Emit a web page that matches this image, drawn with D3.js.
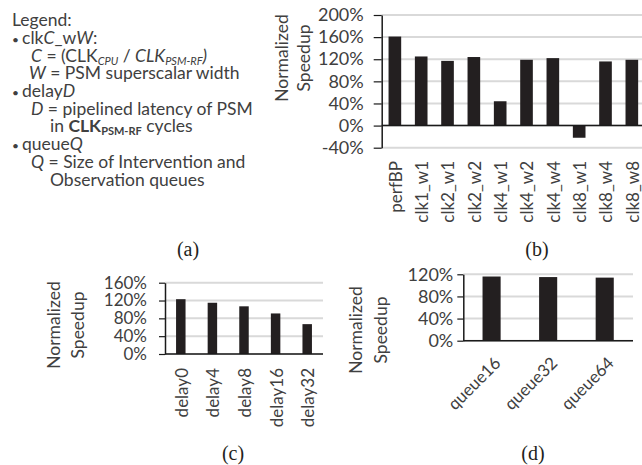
<!DOCTYPE html>
<html>
<head>
<meta charset="utf-8">
<script src="https://cdn.jsdelivr.net/npm/d3@7"></script>
<style>
  body { margin: 0; background: #fff; }
  text { font-family: Lato, "Open Sans", sans-serif; }
</style>
</head>
<body>
<div id="chart"></div>
<script>
// data
var clkCategories = ["perfBP", "clk1_w1", "clk2_w1", "clk2_w2", "clk4_w1", "clk4_w2", "clk4_w4", "clk8_w1", "clk8_w4", "clk8_w8"];
var clkValues = [161, 125, 117, 124, 44, 119, 122, -22, 116, 119];
var clkTicks = [-40, 0, 40, 80, 120, 160, 200];

var delayCategories = ["delay0", "delay4", "delay8", "delay16", "delay32"];
var delayValues = [123, 115, 107, 91, 67];
var delayTicks = [0, 40, 80, 120, 160];

var queueCategories = ["queue16", "queue32", "queue64"];
var queueValues = [116, 115, 114];
var queueTicks = [0, 40, 80, 120];

var W = 642, H = 465;
var barColor = "#231f20", gridColor = "#d9d9d9", textColor = "#404040";

var svg = d3.select("#chart").append("svg")
    .attr("width", W)
    .attr("height", H);

// ---- (a) legend text ----
var legend = svg.append("g")
    .attr("fill", textColor)
    .style("font-size", "17.5px");

function line(x, y) {
    return legend.append("text").attr("x", x).attr("y", y);
}
function part(t, s, opts) {
    var ts = t.append("tspan").text(s);
    opts = opts || {};
    if (opts.italic) ts.style("font-style", "italic");
    if (opts.bold) ts.style("font-weight", "bold");
    if (opts.sub) ts.attr("baseline-shift", "-25%").style("font-size", "11px");
    return ts;
}

line(12, 26).text("Legend:");

var t = line(12, 44);
part(t, "\u2022 ", {}).style("font-size", "12px");
part(t, "clk"); part(t, "C", {italic: true}); part(t, "_w"); part(t, "W", {italic: true}); part(t, ":");

t = line(31, 62);
part(t, "C", {italic: true}); part(t, " = (CLK");
part(t, "CPU", {italic: true, sub: true});
part(t, " / "); part(t, "CLK", {italic: true});
part(t, "PSM-RF", {italic: true, sub: true});
part(t, ")", {italic: true});

t = line(29, 79);
part(t, "W", {italic: true}); part(t, " = PSM superscalar width");

t = line(12, 97);
part(t, "\u2022 ", {}).style("font-size", "12px");
part(t, "delay"); part(t, "D", {italic: true});

t = line(31, 115);
part(t, "D", {italic: true}); part(t, " = pipelined latency of PSM");

t = line(50, 132);
part(t, "in "); part(t, "CLK", {bold: true});
part(t, "PSM-RF", {bold: true, sub: true});
part(t, " cycles");

t = line(12, 150);
part(t, "\u2022 ", {}).style("font-size", "12px");
part(t, "queue"); part(t, "Q", {italic: true});

t = line(31, 168);
part(t, "Q", {italic: true}); part(t, " = Size of Intervention and");

line(50, 186).text("Observation queues");

// ---- bar panel helper ----
function drawPanel(cfg) {
    var g = svg.append("g");

    var x = d3.scaleBand()
        .domain(cfg.categories)
        .range(cfg.xRange)
        .paddingInner(cfg.padding)
        .paddingOuter(cfg.padding / 2);

    var y = d3.scaleLinear()
        .domain(d3.extent(cfg.ticks))
        .range(cfg.yRange);

    // gridlines
    g.selectAll(".grid")
        .data(cfg.ticks)
        .enter().append("line")
        .attr("x1", cfg.xRange[0])
        .attr("x2", cfg.xRange[1])
        .attr("y1", function(d) { return y(d); })
        .attr("y2", function(d) { return y(d); })
        .attr("stroke", gridColor)
        .attr("stroke-width", 2);

    // bars
    g.selectAll(".bar")
        .data(cfg.values)
        .enter().append("rect")
        .attr("x", function(d, i) { return x(cfg.categories[i]); })
        .attr("y", function(d) { return y(Math.max(0, d)); })
        .attr("width", x.bandwidth())
        .attr("height", function(d) { return Math.abs(y(d) - y(0)); })
        .attr("fill", barColor);

    // zero line
    g.append("line")
        .attr("x1", cfg.xRange[0]).attr("x2", cfg.xRange[1])
        .attr("y1", y(0)).attr("y2", y(0))
        .attr("stroke", "#1a1a1a")
        .attr("stroke-width", 1.5);

    // y axis
    var ax = g.append("g")
        .attr("transform", "translate(" + cfg.xRange[0] + ",0)")
        .call(d3.axisLeft(y)
            .tickValues(cfg.ticks)
            .tickSizeInner(cfg.tickSize)
            .tickSizeOuter(0)
            .tickPadding(cfg.tickPad)
            .tickFormat(function(d) { return d + "%"; }));
    ax.select(".domain").attr("stroke", "#1a1a1a").attr("stroke-width", 1.5);
    ax.selectAll(".tick line").attr("stroke", "#1a1a1a").attr("stroke-width", 1.2);
    ax.selectAll(".tick text")
        .style("font-family", "Lato, sans-serif")
        .style("font-size", cfg.tickFont)
        .attr("fill", textColor);

    // category labels
    g.selectAll(".xlab")
        .data(cfg.categories)
        .enter().append("text")
        .attr("transform", function(d) {
            return "translate(" + (x(d) + x.bandwidth() / 2 + cfg.labDx) + "," + cfg.labY + ") rotate(" + cfg.labRot + ")";
        })
        .attr("text-anchor", "end")
        .attr("dy", "0.35em")
        .attr("fill", textColor)
        .style("font-size", "17px")
        .text(function(d) { return d; });

    // axis title, two lines
    ["Normalized", "Speedup"].forEach(function(s, i) {
        g.append("text")
            .attr("transform", "translate(" + cfg.titleX[i] + "," + cfg.titleY + ") rotate(-90)")
            .attr("text-anchor", "middle")
            .attr("fill", textColor)
            .style("font-size", "17.5px")
            .text(s);
    });
}

drawPanel({
    categories: clkCategories, values: clkValues, ticks: clkTicks,
    xRange: [381.7, 645], yRange: [147.7, 15], padding: 0.52,
    tickSize: 8, tickPad: 10, tickFont: "18px",
    labY: 161, labDx: 1, labRot: -90,
    titleX: [288, 310], titleY: 58
});

drawPanel({
    categories: delayCategories, values: delayValues, ticks: delayTicks,
    xRange: [165, 323], yRange: [354, 282.7], padding: 0.7,
    tickSize: 6, tickPad: 12, tickFont: "17px",
    labY: 368, labDx: 1, labRot: -90,
    titleX: [60, 84], titleY: 325
});

drawPanel({
    categories: queueCategories, values: queueValues, ticks: queueTicks,
    xRange: [463.3, 633], yRange: [340.7, 274.3], padding: 0.68,
    tickSize: 6, tickPad: 4, tickFont: "18px",
    labY: 360, labDx: 6, labRot: -45,
    titleX: [362, 387], titleY: 330
});

// ---- panel captions ----
var captions = [
    {label: "(a)", x: 188, y: 256},
    {label: "(b)", x: 537, y: 256},
    {label: "(c)", x: 233, y: 460},
    {label: "(d)", x: 533, y: 460}
];
svg.selectAll(".cap")
    .data(captions)
    .enter().append("text")
    .attr("x", function(d) { return d.x; })
    .attr("y", function(d) { return d.y; })
    .attr("text-anchor", "middle")
    .attr("fill", barColor)
    .style("font-family", "'Liberation Serif', serif")
    .style("font-size", "20px")
    .text(function(d) { return d.label; });
</script>
</body>
</html>
